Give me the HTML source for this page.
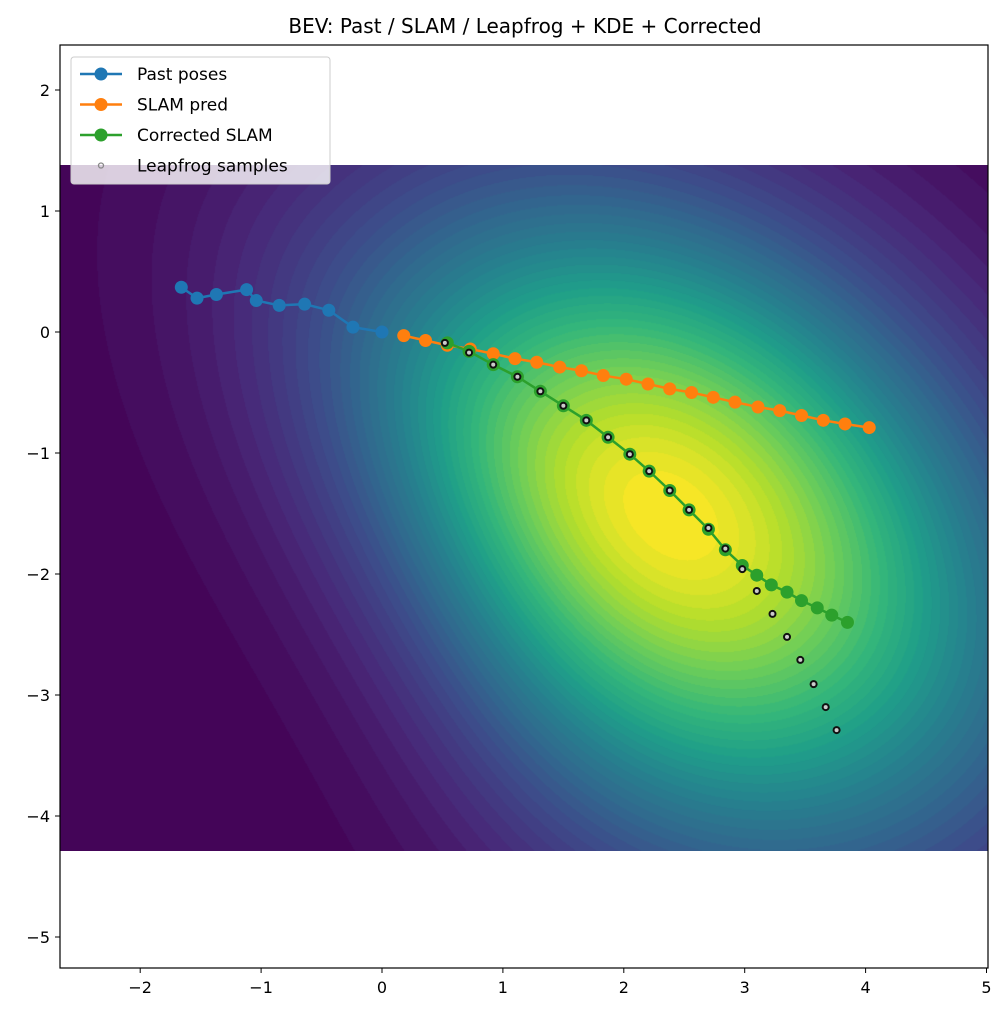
<!DOCTYPE html>
<html><head><meta charset="utf-8"><style>
body{margin:0;background:#fff;}
#wrap{position:relative;width:1008px;height:1020px;}
#heatc{position:absolute;left:60px;top:165px;}
svg{position:absolute;left:0;top:0;display:block;font-family:"DejaVu Sans","Liberation Sans",sans-serif;}
</style></head><body>
<div id="wrap">
<canvas id="heatc" width="928" height="686"></canvas>
<svg id="chart" width="1008" height="1020" xmlns="http://www.w3.org/2000/svg">
<defs><clipPath id="clip"><rect x="60" y="45" width="928" height="923"/></clipPath></defs>
<text x="525" y="33" text-anchor="middle" font-size="20">BEV: Past / SLAM / Leapfrog + KDE + Corrected</text>
<g id="marks" clip-path="url(#clip)"></g>
<rect x="60" y="45" width="928" height="923" fill="none" stroke="#000" stroke-width="1.2"/>
<g id="axes"></g>
<g id="legend"></g>
</svg>
</div>
<script>
const pastX=[-1.66,-1.53,-1.37,-1.12,-1.04,-0.85,-0.64,-0.44,-0.24,0];
const pastY=[0.37,0.28,0.31,0.35,0.26,0.22,0.23,0.18,0.04,0];
const slamX=[0.18,0.36,0.54,0.73,0.92,1.1,1.28,1.47,1.65,1.83,2.02,2.2,2.38,2.56,2.74,2.92,3.11,3.29,3.47,3.65,3.83,4.03];
const slamY=[-0.03,-0.07,-0.11,-0.14,-0.18,-0.22,-0.25,-0.29,-0.32,-0.36,-0.39,-0.43,-0.47,-0.5,-0.54,-0.58,-0.62,-0.65,-0.69,-0.73,-0.76,-0.79];
const corrX=[0.54,0.72,0.92,1.12,1.31,1.5,1.69,1.87,2.05,2.21,2.38,2.54,2.7,2.84,2.98,3.1,3.22,3.35,3.47,3.6,3.72,3.85];
const corrY=[-0.09,-0.16,-0.27,-0.37,-0.49,-0.61,-0.73,-0.87,-1.01,-1.15,-1.31,-1.47,-1.63,-1.8,-1.93,-2.01,-2.09,-2.15,-2.22,-2.28,-2.34,-2.4];
const sampX=[0.52,0.72,0.92,1.12,1.31,1.5,1.69,1.87,2.05,2.21,2.38,2.54,2.7,2.84,2.98,3.1,3.23,3.35,3.46,3.57,3.67,3.76];
const sampY=[-0.09,-0.17,-0.27,-0.37,-0.49,-0.61,-0.73,-0.87,-1.01,-1.15,-1.31,-1.47,-1.62,-1.79,-1.96,-2.14,-2.33,-2.52,-2.71,-2.91,-3.1,-3.29];
const xTicks=[-2,-1,0,1,2,3,4,5];
const yTicks=[2,1,0,-1,-2,-3,-4,-5];
const kdeCenter=[2.38,-1.51];
const NS="http://www.w3.org/2000/svg";
function sx(v){return 382+v*120.9;}
function sy(v){return 332-v*121;}
function mk(tag,attrs,parent){const e=document.createElementNS(NS,tag);for(const k in attrs)e.setAttribute(k,attrs[k]);parent.appendChild(e);return e;}
const vir=[[68,1,84],[72,40,120],[62,73,137],[49,104,142],[38,130,142],[31,158,137],[53,183,121],[109,205,89],[180,222,44],[253,231,37]];
function viridisArr(t){t=Math.max(0,Math.min(1,t));const p=t*(vir.length-1),i=Math.min(vir.length-2,Math.floor(p)),f=p-i;return vir[i].map((a,k)=>Math.round(a+(vir[i+1][k]-a)*f));}
(function(){
const cv=document.getElementById('heatc');const ctx=cv.getContext('2d');
const W=cv.width,H=cv.height;const img=ctx.createImageData(W,H);
const cx=sx(kdeCenter[0])-60,cy=sy(kdeCenter[1])-165;
const a=40*Math.PI/180,ca=Math.cos(a),sa=Math.sin(a);
const LEV=45;
function sm(z){return 1/(1+Math.exp(-z));}
for(let y=0;y<H;y++)for(let x=0;x<W;x++){
const dx=x-cx,dy=y-cy;const u=dx*ca+dy*sa,v=-dx*sa+dy*ca;
const su=244+20*sm(u/80);
const svp=140+60*sm(u/120);
const sv=181+(svp-181)*sm(v/40);
const q=(u/su)**2+(v/sv)**2;
let t=Math.exp(-q/2);
t=(Math.floor(t*LEV)+0.5)/LEV;
const c=viridisArr(t);const o=(y*W+x)*4;img.data[o]=c[0];img.data[o+1]=c[1];img.data[o+2]=c[2];img.data[o+3]=255;}
ctx.putImageData(img,0,0);
})();
const marks=document.getElementById('marks');
function series(xs,ys,color,r,name){const grp=mk('g',{},marks);
mk('polyline',{points:xs.map((x,i)=>sx(x)+','+sy(ys[i])).join(' '),fill:'none',stroke:color,'stroke-width':2.5},grp);
xs.forEach((x,i)=>{const c=mk('circle',{cx:sx(x),cy:sy(ys[i]),r:r,fill:color},grp);});}
series(pastX,pastY,'#1f77b4',6.5,'past-poses');
series(slamX,slamY,'#ff7f0e',6.5,'slam-pred');
series(corrX,corrY,'#2ca02c',6.5,'corrected-slam');
const sg=mk('g',{},marks);


sampX.forEach((x,i)=>{mk('circle',{cx:sx(x),cy:sy(sampY[i]),r:4,fill:'#111'},sg);const c=mk('circle',{cx:sx(x),cy:sy(sampY[i]),r:2,fill:'#ccc'},sg);});
const axes=document.getElementById('axes');
xTicks.forEach(v=>{const x=sx(v);mk('line',{x1:x,x2:x,y1:968,y2:973,stroke:'#000'},axes);const t=mk('text',{x:x,y:993,'text-anchor':'middle','font-size':16},axes);t.textContent=v<0?'\u2212'+(-v):v;});
yTicks.forEach(v=>{const y=sy(v);mk('line',{x1:55,x2:60,y1:y,y2:y,stroke:'#000'},axes);const t=mk('text',{x:50,y:y+6,'text-anchor':'end','font-size':16},axes);t.textContent=v<0?'\u2212'+(-v):v;});
const lg=document.getElementById('legend');
mk('rect',{x:71,y:57,width:259,height:127,rx:3,fill:'rgba(255,255,255,0.8)',stroke:'#ccc'},lg);
const items=[['Past poses','#1f77b4'],['SLAM pred','#ff7f0e'],['Corrected SLAM','#2ca02c'],['Leapfrog samples',null]];
items.forEach((it,i)=>{const y=74+i*30.5;const e=mk('g',{},lg);
if(it[1]){mk('line',{x1:80,x2:122,y1:y,y2:y,stroke:it[1],'stroke-width':2.5},e);mk('circle',{cx:101,cy:y,r:6.5,fill:it[1]},e);}
else{mk('circle',{cx:101,cy:y,r:2.5,fill:'none',stroke:'#888','stroke-width':1.3},e);}
const t=mk('text',{x:137,y:y+6,'font-size':17},e);t.textContent=it[0];});
</script>
</body></html>
